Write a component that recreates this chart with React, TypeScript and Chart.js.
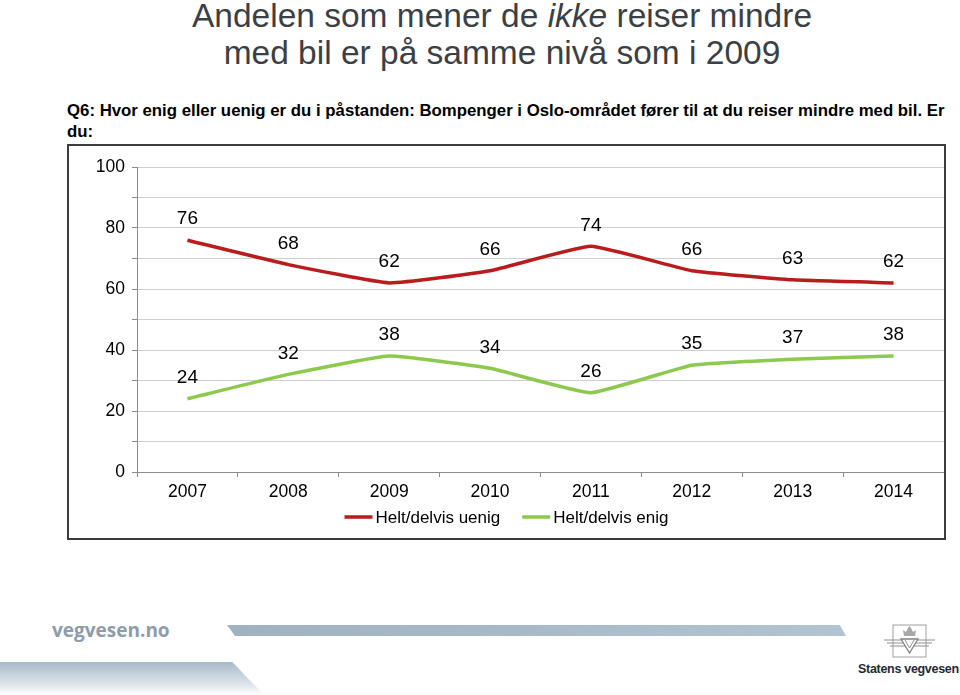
import React, { useEffect, useRef } from "react";
import { Chart, registerables } from "chart.js";

Chart.register(...registerables);

const categories = ["2007", "2008", "2009", "2010", "2011", "2012", "2013", "2014"];
const uenigValues = [76, 68, 62, 66, 74, 66, 63, 62];
const enigValues = [24, 32, 38, 34, 26, 35, 37, 38];
const seriesNames = ["Helt/delvis uenig", "Helt/delvis enig"];
const yTickLabels = [0, 20, 40, 60, 80, 100];

const FONT = "'Liberation Sans', Arial, sans-serif";

const dataLabelPlugin = {
  id: "dataLabels",
  afterDatasetsDraw(chart: any) {
    const ctx = chart.ctx;
    ctx.save();
    ctx.font = `19px ${FONT}`;
    ctx.fillStyle = "#000";
    ctx.textAlign = "center";
    ctx.textBaseline = "middle";
    chart.data.datasets.forEach((ds: any, i: number) => {
      const meta = chart.getDatasetMeta(i);
      meta.data.forEach((pt: any, j: number) => {
        ctx.fillText(String(ds.data[j]), pt.x, pt.y - 21);
      });
    });
    ctx.restore();
  },
};

const customLegendPlugin = {
  id: "customLegend",
  afterDraw(chart: any) {
    const ctx = chart.ctx;
    ctx.save();
    ctx.font = `17px ${FONT}`;
    ctx.textBaseline = "middle";
    const lineW = 28;
    const gapText = 3;
    const gapItem = 22;
    const items = chart.data.datasets.map((ds: any) => ({
      text: ds.label,
      color: ds.borderColor,
      w: lineW + gapText + ctx.measureText(ds.label).width,
    }));
    const total = items.reduce((s: number, it: any) => s + it.w, 0) + gapItem * (items.length - 1);
    let x = chart.width / 2 - total / 2;
    const y = chart.chartArea.bottom + 45;
    items.forEach((it: any) => {
      ctx.fillStyle = it.color;
      ctx.fillRect(x, y - 1.75, lineW, 3.5);
      ctx.fillStyle = "#000";
      ctx.textAlign = "left";
      ctx.fillText(it.text, x + lineW + gapText, y + 1);
      x += it.w + gapItem;
    });
    ctx.restore();
  },
};

function LineChart() {
  const ref = useRef<HTMLCanvasElement>(null);
  useEffect(() => {
    if (!ref.current) return;
    const chart = new Chart(ref.current, {
      type: "line",
      data: {
        labels: categories,
        datasets: [
          {
            label: seriesNames[0],
            data: uenigValues,
            borderColor: "#b81c1c",
            backgroundColor: "#b81c1c",
            borderWidth: 3.5,
            pointRadius: 0,
            tension: 0.12,
          },
          {
            label: seriesNames[1],
            data: enigValues,
            borderColor: "#8dc94e",
            backgroundColor: "#8dc94e",
            borderWidth: 3.5,
            pointRadius: 0,
            tension: 0.12,
          },
        ],
      },
      options: {
        animation: false,
        responsive: false,
        layout: { padding: { top: 21, right: 0, left: 0, bottom: 34 } },
        plugins: {
          tooltip: { enabled: false },
          legend: { display: false },
        },
        scales: {
          x: {
            offset: true,
            grid: {
              display: true,
              drawOnChartArea: false,
              drawTicks: true,
              tickLength: 5,
              color: "#8c8c8c",
              offset: true,
            },
            border: { display: true, color: "#8c8c8c", width: 1 },
            ticks: {
              font: { family: FONT, size: 17.5 },
              color: "#000",
              padding: 5,
            },
            afterFit(scale: any) {
              scale.height = 32;
            },
          },
          y: {
            min: 0,
            max: 100,
            grid: {
              color: "#d0d0d0",
              lineWidth: 1,
              tickLength: 5,
              tickColor: "#8c8c8c",
            },
            border: { display: true, color: "#8c8c8c", width: 1 },
            ticks: {
              stepSize: 10,
              font: { family: FONT, size: 17.5 },
              color: "#000",
              padding: 7,
              callback: (v: any) => (yTickLabels.includes(Number(v)) ? String(v) : ""),
            },
            afterFit(scale: any) {
              scale.width = 68;
            },
          },
        },
      },
      plugins: [dataLabelPlugin, customLegendPlugin],
    });
    return () => chart.destroy();
  }, []);
  return <canvas ref={ref} width={875} height={392} style={{ display: "block" }} />;
}

const titleLine: React.CSSProperties = {
  position: "absolute",
  left: 0,
  width: 1004,
  textAlign: "center",
  fontSize: 33.5,
  lineHeight: "37px",
  color: "#3b3f46",
  whiteSpace: "nowrap",
};

export default function App() {
  return (
    <div
      style={{
        position: "absolute",
        left: 0,
        top: 0,
        width: 960,
        height: 695,
        overflow: "hidden",
        background: "#fff",
        fontFamily: FONT,
      }}
    >
      <div style={{ ...titleLine, top: -3 }}>
        Andelen som mener de <i>ikke</i> reiser mindre
      </div>
      <div style={{ ...titleLine, top: 34 }}>med bil er på samme nivå som i 2009</div>
      <div
        style={{
          position: "absolute",
          left: 67,
          top: 100,
          width: 885,
          fontSize: 16.8,
          fontWeight: "bold",
          lineHeight: "21px",
          color: "#000",
        }}
      >
        Q6: Hvor enig eller uenig er du i påstanden: Bompenger i Oslo-området fører til at du reiser mindre med bil. Er du:
      </div>
      <div
        style={{
          position: "absolute",
          left: 67,
          top: 144,
          width: 875,
          height: 392,
          border: "2px solid #3c3c3c",
          background: "#fff",
        }}
      >
        <LineChart />
      </div>
      {/* footer */}
      <div
        style={{
          position: "absolute",
          left: 52,
          top: 617,
          fontFamily: "'Open Sans', 'DejaVu Sans', sans-serif",
          fontWeight: 700,
          fontSize: 19,
          color: "#8e9cab",
        }}
      >
        vegvesen.no
      </div>
      <div
        style={{
          position: "absolute",
          left: 227,
          top: 625,
          width: 619,
          height: 11,
          background: "linear-gradient(90deg, #9fb2c3, #b2c3d1)",
          clipPath: "polygon(0 0, 99% 0, 100% 100%, 1.3% 100%)",
        }}
      />
      <div
        style={{
          position: "absolute",
          left: 0,
          top: 662,
          width: 264,
          height: 33,
          background: "linear-gradient(180deg, #a8bac9, #dfe6ec 70%, #ffffff)",
          clipPath: "polygon(0 0, 88% 0, 100% 100%, 0 100%)",
        }}
      />
      <svg
        style={{ position: "absolute", left: 882, top: 622 }}
        width={56}
        height={40}
        viewBox="0 0 56 40"
      >
        <rect x={11} y={3} width={33} height={32} fill="none" stroke="#a0a0a0" strokeWidth={1} />
        <path d="M22 14 L21 8 L24 10 L26 6 L27.5 4 L29 6 L31 10 L34 8 L33 14 Z" fill="#a8a8a8" />
        <path d="M2 18 L53 18 M5 21 L50 21 M8 24 L47 24" stroke="#909090" strokeWidth={1.2} />
        <path d="M19 17 L27.5 31 L36 17 Z" fill="#fff" stroke="#808080" strokeWidth={1.3} />
        <path d="M23 18 L27.5 26 L32 18" fill="none" stroke="#909090" strokeWidth={1} />
      </svg>
      <div
        style={{
          position: "absolute",
          left: 858,
          top: 662,
          width: 100,
          textAlign: "right",
          fontFamily: "'Liberation Sans', Arial, sans-serif",
          fontWeight: 700,
          fontSize: 12.5,
          color: "#1e2a38",
          whiteSpace: "nowrap",
          letterSpacing: -0.3,
        }}
      >
        Statens vegvesen
      </div>
    </div>
  );
}
